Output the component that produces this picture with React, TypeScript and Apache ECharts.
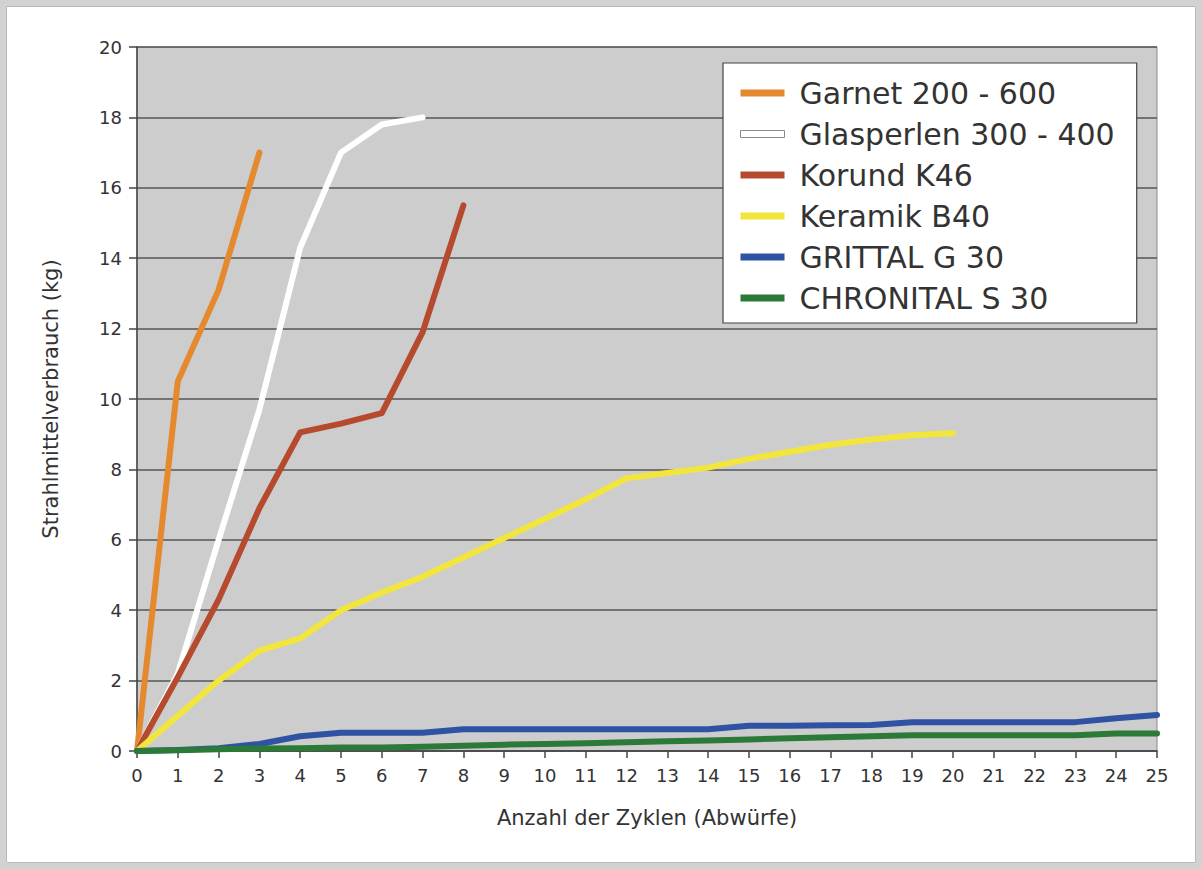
import React, { useEffect, useRef } from "react";
import * as echarts from "echarts";

const seriesNames = [
  "Garnet 200 - 600",
  "Glasperlen 300 - 400",
  "Korund K46",
  "Keramik B40",
  "GRITTAL G 30",
  "CHRONITAL S 30",
];
const seriesColors = ["#e4892e", "#ffffff", "#b64a2e", "#f2e63c", "#2f52a2", "#2b7a37"];

// values indexed by cycle number (0, 1, 2, ...)
const garnet = [0, 10.5, 13.1, 17.0];
const glasperlen = [0, 2.2, 6.0, 9.7, 14.3, 17.0, 17.8, 18.0];
const korund = [0, 2.1, 4.3, 6.9, 9.05, 9.3, 9.6, 11.9, 15.5];
const keramik = [0, 1.0, 2.0, 2.85, 3.2, 4.0, 4.5, 4.95, 5.5, 6.05, 6.6, 7.15, 7.75, 7.9, 8.05, 8.3, 8.5, 8.7, 8.85, 8.97, 9.03];
const grittal = [0, 0.03, 0.08, 0.2, 0.42, 0.52, 0.52, 0.52, 0.62, 0.62, 0.62, 0.62, 0.62, 0.62, 0.62, 0.72, 0.72, 0.73, 0.74, 0.82, 0.82, 0.82, 0.82, 0.82, 0.93, 1.02];
const chronital = [0, 0.02, 0.05, 0.07, 0.08, 0.1, 0.1, 0.12, 0.15, 0.18, 0.2, 0.22, 0.25, 0.28, 0.3, 0.33, 0.36, 0.39, 0.42, 0.45, 0.45, 0.45, 0.45, 0.45, 0.5, 0.5];

const allValues = [garnet, glasperlen, korund, keramik, grittal, chronital];

const xAxisTitle = "Anzahl der Zyklen (Abwürfe)";
const yAxisTitle = "Strahlmittelverbrauch (kg)";

export default function App() {
  const ref = useRef<HTMLDivElement>(null);
  useEffect(() => {
    document.body.style.margin = "0";
    const chart = echarts.init(ref.current!, null, { renderer: "svg" });
    const drawOrder = [5, 4, 3, 2, 1, 0];
    const series = drawOrder.map((i) => ({
      name: seriesNames[i],
      type: "line",
      data: allValues[i].map((v, x) => [x, v]),
      showSymbol: false,
      symbol: "none",
      smooth: false,
      lineStyle: { color: seriesColors[i], width: 6, cap: "round", join: "round" },
      itemStyle: { color: seriesColors[i] },
      z: 3 + i,
    }));
    chart.setOption({
      animation: false,
      backgroundColor: "#ffffff",
      graphic: [
        {
          type: "rect",
          shape: { x: 3, y: 3, width: 1196, height: 863 },
          style: { fill: "none", stroke: "#d2d2d2", lineWidth: 6 },
          silent: true,
        },
        {
          type: "rect",
          shape: { x: 6.5, y: 6.5, width: 1189, height: 856 },
          style: { fill: "none", stroke: "#b8b8b8", lineWidth: 1 },
          silent: true,
        },
      ],
      grid: {
        left: 137,
        top: 47,
        right: 45,
        bottom: 118,
        show: true,
        backgroundColor: "#cdcdcd",
        borderColor: "#8a8a8a",
        borderWidth: 1,
      },
      legend: {
        orient: "vertical",
        left: 723,
        top: 63,
        padding: [15, 22, 10, 17],
        backgroundColor: "#ffffff",
        borderColor: "#444444",
        borderWidth: 1.2,
        itemWidth: 44,
        itemHeight: 7,
        itemGap: 11,
        icon: "rect",
        textStyle: {
          fontFamily: "DejaVu Sans",
          fontSize: 30,
          color: "#333333",
          lineHeight: 30,
          padding: [0, 0, 0, 10],
        },
        data: seriesNames.map((n, i) => ({
          name: n,
          itemStyle:
            i === 1
              ? { color: "#ffffff", borderColor: "#8a8a8a", borderWidth: 1 }
              : { color: seriesColors[i] },
        })),
      },
      xAxis: {
        type: "value",
        min: 0,
        max: 25,
        interval: 1,
        name: xAxisTitle,
        nameLocation: "middle",
        nameGap: 56,
        nameTextStyle: { fontFamily: "DejaVu Sans", fontSize: 21, color: "#333" },
        axisLine: { show: true, lineStyle: { color: "#444", width: 1.5 } },
        axisTick: { show: true, length: 7, lineStyle: { color: "#444", width: 1.5 } },
        axisLabel: { fontFamily: "DejaVu Sans", fontSize: 18, color: "#333", margin: 15 },
        splitLine: { show: false },
      },
      yAxis: {
        type: "value",
        min: 0,
        max: 20,
        interval: 2,
        name: yAxisTitle,
        nameLocation: "middle",
        nameGap: 76,
        nameTextStyle: { fontFamily: "DejaVu Sans", fontSize: 21, color: "#333" },
        axisLine: { show: true, lineStyle: { color: "#444", width: 1.5 } },
        axisTick: { show: true, length: 8, lineStyle: { color: "#444", width: 1.5 } },
        axisLabel: { fontFamily: "DejaVu Sans", fontSize: 18, color: "#333", margin: 15 },
        splitLine: { show: true, lineStyle: { color: "#555555", width: 1.5 } },
      },
      series,
    });
    return () => chart.dispose();
  }, []);
  return (
    <div
      ref={ref}
      style={{ position: "fixed", left: 0, top: 0, width: 1202, height: 869 }}
    />
  );
}
